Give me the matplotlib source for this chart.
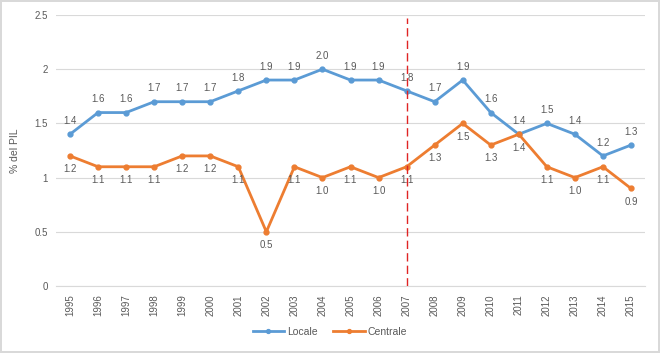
import matplotlib
matplotlib.use("Agg")
import matplotlib.pyplot as plt
import numpy as np

years = [str(y) for y in range(1995, 2016)]
locale = [1.4, 1.6, 1.6, 1.7, 1.7, 1.7, 1.8, 1.9, 1.9, 2.0, 1.9,
          1.9, 1.8, 1.7, 1.9, 1.6, 1.4, 1.5, 1.4, 1.2, 1.3]
centrale = [1.2, 1.1, 1.1, 1.1, 1.2, 1.2, 1.1, 0.5, 1.1, 1.0, 1.1,
            1.0, 1.1, 1.3, 1.5, 1.3, 1.4, 1.1, 1.0, 1.1, 0.9]
split_year = "2007"

plt.rcParams['font.family'] = ['Liberation Sans', 'DejaVu Sans']
txt = '#595959'
blue = '#5B9BD5'
orange = '#ED7D31'

fig = plt.figure(figsize=(6.6, 3.53), dpi=100)
fig.patch.set_edgecolor('#D9D9D9')
fig.patch.set_linewidth(1.5)
ax = fig.add_axes([56 / 660, 1 - 286 / 353, 589 / 660, 271 / 353])

x = np.arange(len(years))
ax.plot(x, locale, color=blue, lw=2, marker='o', ms=3.5, label='Locale', zorder=3)
ax.plot(x, centrale, color=orange, lw=2, marker='o', ms=3.5, label='Centrale', zorder=3)

for xi, v in zip(x, locale):
    ax.annotate(f"{v:.1f}", (xi, v), xytext=(0, 6), textcoords='offset points',
                ha='center', va='bottom', fontsize=7, color=txt)
for xi, v in zip(x, centrale):
    ax.annotate(f"{v:.1f}", (xi, v), xytext=(0, -6), textcoords='offset points',
                ha='center', va='top', fontsize=7, color=txt)

xs = years.index(split_year)
ax.plot([xs, xs], [0, 2.47], color='#E02424', lw=1, ls=(0, (6, 3)), zorder=4)

ax.set_xlim(-0.5, len(years) - 0.5)
ax.set_ylim(0, 2.5)
ax.set_yticks([0, 0.5, 1, 1.5, 2, 2.5])
ax.set_yticklabels(['0', '0.5', '1', '1.5', '2', '2.5'])
ax.set_xticks(x)
ax.set_xticklabels(years, rotation=90)
ax.tick_params(axis='both', length=0, labelsize=7, colors=txt)
ax.tick_params(axis='x', pad=6)
ax.tick_params(axis='y', pad=6)
ax.grid(axis='y', color='#D9D9D9', lw=0.8)
ax.set_axisbelow(True)
for s in ['top', 'right', 'left']:
    ax.spines[s].set_visible(False)
ax.spines['bottom'].set_color('#D9D9D9')
ax.set_ylabel('% del PIL', fontsize=7.5, color=txt, labelpad=10)

fig.legend(loc='center', bbox_to_anchor=(0.5, 1 - 332 / 353), ncol=2, frameon=False,
           fontsize=7.5, labelcolor=txt, handlelength=3, columnspacing=1.5,
           handletextpad=0.3, markerscale=0.8)

fig.savefig('out.png', dpi=100, edgecolor=fig.get_edgecolor())
